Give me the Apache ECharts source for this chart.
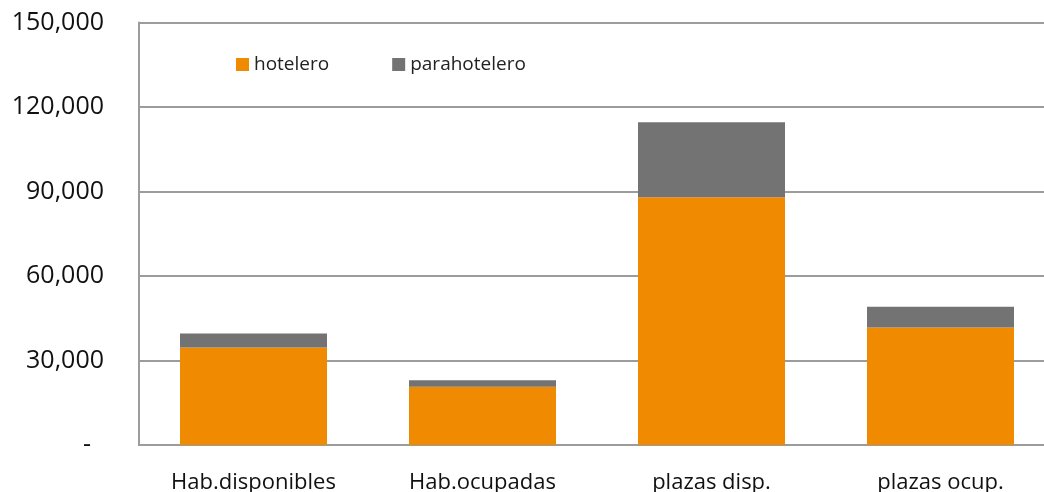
<!DOCTYPE html>
<html>
<head>
<meta charset="utf-8">
<script src="https://cdn.jsdelivr.net/npm/echarts@6/dist/echarts.min.js"></script>
<style>
  html, body { margin: 0; padding: 0; background: #fff; }
  #chart { width: 1044px; height: 492px; }
</style>
</head>
<body>
<div id="chart"></div>
<script>
const categories = ['Hab.disponibles', 'Hab.ocupadas', 'plazas disp.', 'plazas ocup.'];
const hotelero = [34600, 20700, 88000, 41700];
const parahotelero = [5000, 2300, 26600, 7400];
const seriesNames = ['hotelero', 'parahotelero'];
const yTicks = [0, 30000, 60000, 90000, 120000, 150000];

const myChart = echarts.init(document.getElementById('chart'), null, { renderer: 'canvas' });

const gridColor = '#9c9c9c';

const option = {
  animation: false,
  textStyle: { fontFamily: 'Open Sans' },
  legend: {
    data: seriesNames,
    left: 231,
    top: 50,
    icon: 'rect',
    itemWidth: 13,
    itemHeight: 13,
    itemGap: 63,
    textStyle: { fontSize: 19, color: '#222', fontFamily: 'Open Sans' }
  },
  grid: {
    left: 139,
    width: 916,
    top: 22.5,
    bottom: 47,
    containLabel: false,
    outerBoundsMode: 'none'
  },
  xAxis: {
    type: 'category',
    data: categories,
    axisLine: { show: true, lineStyle: { color: gridColor, width: 2 } },
    axisTick: { show: false },
    axisLabel: {
      fontSize: 22,
      color: '#111',
      margin: 27,
      fontFamily: 'Open Sans'
    }
  },
  yAxis: {
    type: 'value',
    min: yTicks[0],
    max: yTicks[yTicks.length - 1],
    interval: 30000,
    axisLine: { show: true, lineStyle: { color: gridColor, width: 2 } },
    axisTick: { show: false },
    splitLine: { show: true, lineStyle: { color: gridColor, width: 2 } },
    axisLabel: {
      fontSize: 25,
      color: '#111',
      margin: 35,
      fontFamily: 'Open Sans',
      formatter: (v) => v === 0 ? '-  ' : v.toString().replace(/\B(?=(\d{3})+(?!\d))/g, ',')
    }
  },
  series: [
    {
      name: seriesNames[0],
      type: 'bar',
      stack: 'total',
      barWidth: 147,
      itemStyle: { color: '#F08A00' },
      data: hotelero
    },
    {
      name: seriesNames[1],
      type: 'bar',
      stack: 'total',
      barWidth: 147,
      itemStyle: { color: '#737373' },
      data: parahotelero
    }
  ]
};

myChart.setOption(option, true);
</script>
</body>
</html>
